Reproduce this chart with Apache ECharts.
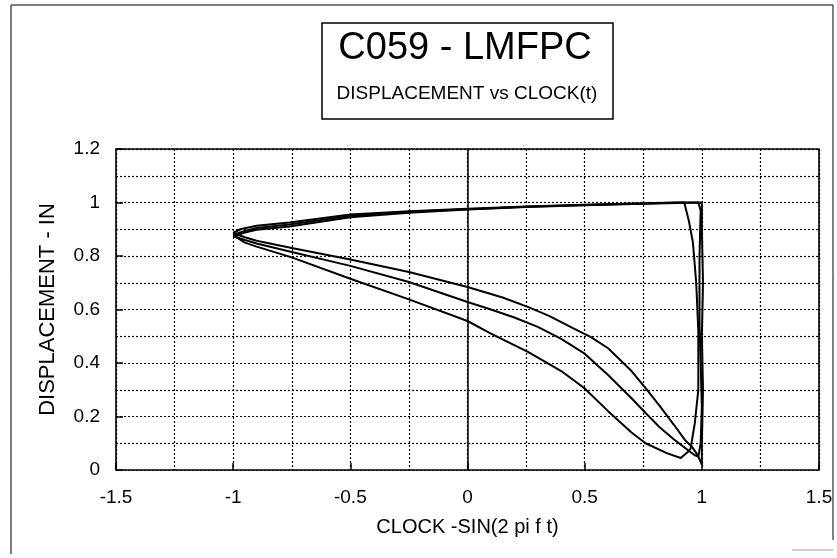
<!DOCTYPE html>
<html>
<head>
<meta charset="utf-8">
<script src="https://cdn.jsdelivr.net/npm/echarts@6/dist/echarts.min.js"></script>
<style>
html,body{margin:0;padding:0;background:#fff;}
#chart{width:837px;height:558px;}
</style>
</head>
<body>
<div id="chart"></div>
<script>
// ---- data ----
var titleText = 'C059 - LMFPC';
var subtitleText = 'DISPLACEMENT vs CLOCK(t)';
var xName = 'CLOCK -SIN(2 pi f t)';
var yName = 'DISPLACEMENT - IN';
var xTicks = [-1.5, -1, -0.5, 0, 0.5, 1, 1.5];
var yTicks = [0, 0.2, 0.4, 0.6, 0.8, 1, 1.2];

var loop1 = [
  [-1,0.886],[-0.97,0.9],[-0.9,0.913],[-0.76,0.925],[-0.5,0.955],[-0.25,0.967],[0,0.977],[0.25,0.985],[0.5,0.992],[0.75,0.997],[0.9,1.0],[0.985,1.0],
  [0.995,0.97],[0.99,0.8],[0.99,0.55],[0.995,0.4],[1.0,0.235],[0.995,0.1],[0.985,0.05],
  [0.975,0.065],[0.955,0.09],[0.93,0.11],[0.88,0.17],[0.82,0.24],[0.76,0.306],[0.7,0.37],[0.6,0.455],[0.527,0.497],[0.45,0.53],[0.35,0.575],[0.26,0.609],[0.15,0.645],[0,0.684],[-0.25,0.74],[-0.5,0.787],[-0.75,0.83],[-0.9,0.857],[-0.95,0.87],[-1,0.886]
];
var loop2 = [
  [-1,0.875],[-0.95,0.888],[-0.9,0.898],[-0.76,0.91],[-0.5,0.945],[-0.25,0.962],[0,0.974],[0.25,0.983],[0.5,0.99],[0.75,0.995],[0.9,0.998],[1.0,1.0],
  [1.0,0.9],[1.005,0.7],[1.0,0.5],[1.005,0.3],[1.0,0.1],[1.0,0.02],[0.985,0.05],
  [0.97,0.055],[0.94,0.075],[0.88,0.115],[0.82,0.16],[0.76,0.213],[0.7,0.268],[0.6,0.355],[0.5,0.435],[0.4,0.49],[0.3,0.535],[0.2,0.57],[0.1,0.6],[0,0.628],[-0.25,0.703],[-0.5,0.763],[-0.75,0.815],[-0.9,0.847],[-0.95,0.86],[-1,0.875]
];
var loop3 = [
  [-1,0.88],[-0.95,0.894],[-0.9,0.905],[-0.76,0.918],[-0.5,0.95],[-0.25,0.965],[0,0.975],[0.25,0.984],[0.5,0.991],[0.75,0.996],[0.925,1.0],
  [0.945,0.93],[0.962,0.85],[0.976,0.70],[0.985,0.52],[0.985,0.30],[0.97,0.175],[0.952,0.08],[0.94,0.067],
  [0.91,0.045],[0.85,0.063],[0.76,0.10],[0.7,0.14],[0.6,0.22],[0.5,0.305],[0.4,0.37],[0.26,0.441],[0.1,0.51],[0,0.557],[-0.25,0.638],[-0.5,0.715],[-0.75,0.795],[-0.9,0.835],[-0.95,0.85],[-1,0.878]
];

// ---- chart ----
var FONT = 'Liberation Sans, Arial, sans-serif';
var dotted = {show:true, lineStyle:{color:'#000', width:1.2, type:[2,2]}};
var chart = echarts.init(document.getElementById('chart'), null, {renderer:'canvas'});

function fmt(list){ return function(v){ for (var i=0;i<list.length;i++){ if (Math.abs(list[i]-v)<1e-9) return String(list[i]); } return ''; }; }

function lineSeries(d){
  return {type:'line', data:d, xAxisIndex:0, yAxisIndex:0, showSymbol:false, symbol:'none', smooth:false,
    lineStyle:{color:'#000', width:2}, animation:false, silent:true, z:5};
}

var option = {
  backgroundColor:'#fff',
  animation:false,
  grid:{left:116, right:18, top:149, bottom:88, show:true, borderColor:'#000', borderWidth:1.6, backgroundColor:'transparent'},
  xAxis:[{
    type:'value', min:xTicks[0], max:xTicks[xTicks.length-1], interval:0.5,
    name:xName, nameLocation:'middle', nameGap:47,
    nameTextStyle:{color:'#000', fontSize:20, fontFamily:FONT},
    axisLine:{show:false},
    axisTick:{show:true, inside:true, length:7, lineStyle:{color:'#000', width:1.5}},
    minorTick:{show:false, splitNumber:2},
    splitLine:dotted,
    minorSplitLine:dotted,
    axisLabel:{color:'#000', fontSize:19, fontFamily:FONT, margin:18, formatter:fmt(xTicks)}
  }],
  yAxis:[{
    type:'value', min:yTicks[0], max:yTicks[yTicks.length-1], interval:0.2,
    name:yName, nameLocation:'middle', nameGap:57, nameRotate:90,
    nameTextStyle:{color:'#000', fontSize:22, fontFamily:FONT},
    axisLine:{show:false, onZero:false},
    axisTick:{show:true, inside:true, length:7, lineStyle:{color:'#000', width:1.5}},
    minorTick:{show:false, splitNumber:2},
    splitLine:dotted,
    minorSplitLine:dotted,
    axisLabel:{color:'#000', fontSize:19, fontFamily:FONT, margin:16, formatter:fmt(yTicks)}
  },{
    type:'value', min:yTicks[0], max:yTicks[yTicks.length-1], interval:0.2,
    position:'left',
    axisLine:{show:true, onZero:true, lineStyle:{color:'#000', width:1.5}},
    axisTick:{show:false}, axisLabel:{show:false}, splitLine:{show:false}
  }],
  series:[lineSeries(loop1), lineSeries(loop2), lineSeries(loop3)],
  graphic:[
    {type:'polyline', silent:true, shape:{points:[[11,554],[11,5],[833,5],[833,540]]}, style:{stroke:'#000', lineWidth:1, fill:null}},
    {type:'line', silent:true, shape:{x1:792, y1:550, x2:833, y2:550}, style:{stroke:'#999', lineWidth:1}},
    {type:'rect', silent:true, shape:{x:322, y:23, width:291, height:96}, style:{stroke:'#000', lineWidth:1.5, fill:'#fff'}},
    {type:'text', silent:true, x:465, y:49, style:{text:titleText, fill:'#000', font:'38px ' + FONT, textAlign:'center', textVerticalAlign:'middle'}},
    {type:'text', silent:true, x:467, y:94, style:{text:subtitleText, fill:'#000', font:'19px ' + FONT, textAlign:'center', textVerticalAlign:'middle'}}
  ]
};
chart.setOption(option);
</script>
</body>
</html>
